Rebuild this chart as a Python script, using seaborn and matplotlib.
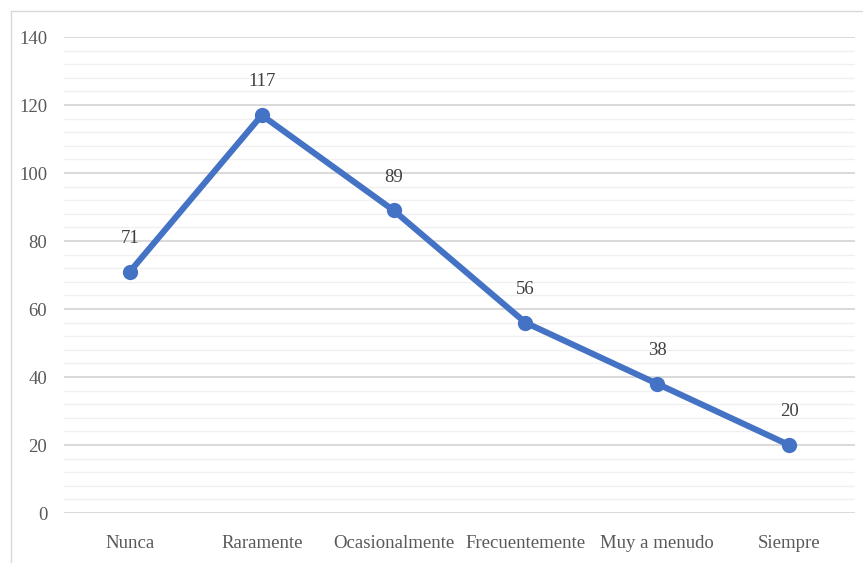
import matplotlib
matplotlib.use("Agg")
import matplotlib.pyplot as plt
import seaborn as sns
import pandas as pd
import numpy as np
from matplotlib.lines import Line2D

categories = ["Nunca", "Raramente", "Ocasionalmente", "Frecuentemente", "Muy a menudo", "Siempre"]
values = [71, 117, 89, 56, 38, 20]
y_ticks = [0, 20, 40, 60, 80, 100, 120, 140]

sns.set_theme(style="white")
plt.rcParams['font.family'] = ['Liberation Serif', 'DejaVu Serif']

df = pd.DataFrame({"cat": categories, "val": values})

W, H = 863, 563
fig = plt.figure(figsize=(W / 100, H / 100), dpi=100)
ax = fig.add_axes([64 / W, (H - 513) / H, (855 - 64) / W, (513 - 37) / H])

# gridlines
for v in np.arange(0, 141, 4):
    if v % 20 == 0:
        ax.axhline(v, color="#d9d9d9", lw=1.4, zorder=0)
    else:
        ax.axhline(v, color="#f0f0f0", lw=1.0, zorder=0)

sns.lineplot(data=df, x="cat", y="val", ax=ax, color="#4472C4", lw=4.4,
             marker="o", markersize=11, markeredgewidth=0, sort=False, zorder=3)

for i, v in enumerate(values):
    ax.annotate(str(v), (i, v), xytext=(0, 24), textcoords="offset points",
                ha="center", va="center", fontsize=13.5, color="#404040")

ax.set_xlim(-0.5, len(categories) - 0.5)
ax.set_ylim(0, 140)
ax.set_yticks(y_ticks)
ax.set_yticklabels([str(t) for t in y_ticks])
ax.tick_params(axis="y", labelsize=13.5, labelcolor="#595959", length=0, pad=12)
ax.tick_params(axis="x", labelsize=13.5, labelcolor="#595959", length=0, pad=16)
ax.set_xlabel("")
ax.set_ylabel("")
for s in ax.spines.values():
    s.set_visible(False)

# outer chart frame
fig.add_artist(Line2D([11 / W, 1], [1 - 11 / H, 1 - 11 / H], color="#d9d9d9", lw=1.0, transform=fig.transFigure))
fig.add_artist(Line2D([11 / W, 11 / W], [0, 1 - 11 / H], color="#d9d9d9", lw=1.0, transform=fig.transFigure))

fig.savefig("out.png", dpi=100)
